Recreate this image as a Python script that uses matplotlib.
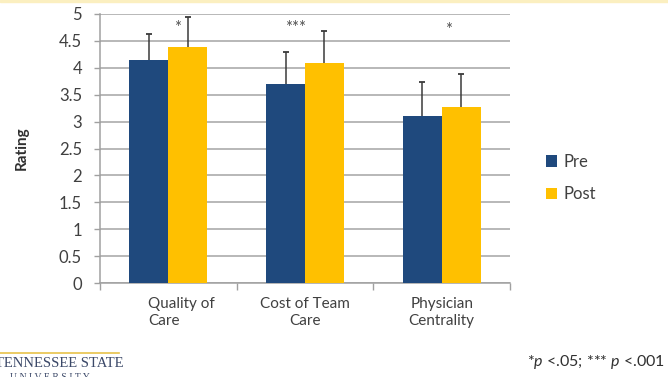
import matplotlib.pyplot as plt
import numpy as np
from matplotlib.ticker import MultipleLocator, FixedLocator
import matplotlib.transforms as mtransforms

plt.rcParams['font.family'] = ['Lato', 'DejaVu Sans']
plt.rcParams['mathtext.fontset'] = 'custom'
plt.rcParams['mathtext.it'] = 'Lato:italic'
plt.rcParams['mathtext.rm'] = 'Lato'

# Mean ratings before and after, with upper SD bars
categories = ['Quality of\nCare', 'Cost of Team\nCare', 'Physician\nCentrality']
pre = [4.15, 3.70, 3.11]
post = [4.39, 4.09, 3.28]
pre_sd = [0.48, 0.59, 0.63]
post_sd = [0.55, 0.59, 0.60]
sig_marks = ['*', '***', '*']

preColor = '#1F497D'
postColor = '#FFC000'
textColor = '#404040'
errColor = '#3a3a3a'

fig = plt.figure(figsize=(6.68, 3.77), dpi=100)
ax = fig.add_axes([0.1497, 0.2493, 0.6138, 0.7136])

x = np.arange(len(categories))
w = 0.285
ax.bar(x - w / 2, pre, w, color=preColor, label='Pre', zorder=3)
ax.bar(x + w / 2, post, w, color=postColor, label='Post', zorder=3)

# plus-only error bars: stem from the bar top, cap at the end
for xs, vals, sds in [(x - w / 2, pre, pre_sd), (x + w / 2, post, post_sd)]:
    tops = np.array(vals) + np.array(sds)
    ax.vlines(xs, vals, tops, color=errColor, linewidth=1.1, zorder=4)
    ax.plot(xs, tops, linestyle='none', marker='_', markersize=5, markeredgewidth=1.3,
            color=errColor, zorder=4)

# significance markers above each pair
sig_offsets = [0.07, -0.07, 0.05]
sig_heights = [4.74, 4.74, 4.70]
for i, (s, dx, hy) in enumerate(zip(sig_marks, sig_offsets, sig_heights)):
    ax.text(i + dx, hy, s, ha='center', va='center', fontsize=12, color='#505050')

ax.set_ylim(0, 5)
ax.set_xlim(-0.5, 2.5)
ax.yaxis.set_major_locator(MultipleLocator(0.5))
ax.yaxis.set_major_formatter(plt.FuncFormatter(lambda v, p: '{:g}'.format(v)))
ax.grid(axis='y', color='#ABABAB', linewidth=1.2, zorder=0)
ax.set_axisbelow(True)

ax.xaxis.set_major_locator(FixedLocator([-0.5, 0.5, 1.5, 2.5]))
ax.xaxis.set_major_formatter(plt.NullFormatter())
ax.xaxis.set_minor_locator(FixedLocator(x))
ax.set_xticklabels(categories, minor=True)
ax.tick_params(axis='x', which='major', length=5, color='#A0A0A0', width=1)
ax.tick_params(axis='x', which='minor', length=0, pad=10, labelsize=11, labelcolor=textColor)
ax.tick_params(axis='y', length=4, color='#A0A0A0', width=1, pad=9, labelsize=12, labelcolor=textColor)

for lab in ax.get_xticklabels(minor=True):
    lab.set_linespacing(1.3)
lab0 = ax.get_xticklabels(minor=True)[0]
lab0.set_multialignment('left')
lab0.set_transform(lab0.get_transform() + mtransforms.ScaledTranslation(13 / 100, 0, fig.dpi_scale_trans))

for side in ['top', 'right']:
    ax.spines[side].set_visible(False)
for side in ['left', 'bottom']:
    ax.spines[side].set_color('#A0A0A0')
    ax.spines[side].set_linewidth(1.1)

ax.set_ylabel('Rating', fontsize=11, fontweight='bold', color='#303030', labelpad=22)

ax.legend(loc='center left', bbox_to_anchor=(1.05, 0.39), frameon=False, fontsize=12,
          handlelength=0.7, handleheight=0.7, handletextpad=0.4, labelspacing=1.0,
          labelcolor=textColor)

# footnote and university wordmark
fig.text(0.995, 0.04, r'*$p$ <.05; *** $p$ <.001', ha='right', va='center', fontsize=11.5, color='#303030')
fig.add_artist(plt.Line2D([0, 0.178], [0.063, 0.063], color='#E8C24A', linewidth=1.2))
fig.text(-0.008, 0.036, 'TENNESSEE STATE', ha='left', va='center', fontsize=10.5,
         family='Liberation Serif', color='#3B4868')
fig.text(0.075, 0.0, 'U N I V E R S I T Y', ha='center', va='center', fontsize=7,
         family='Liberation Serif', color='#3B4868')
fig.add_artist(plt.Rectangle((0, 0.994), 1, 0.006, color='#FBEFC0', transform=fig.transFigure))

plt.savefig('out.png', dpi=100)
